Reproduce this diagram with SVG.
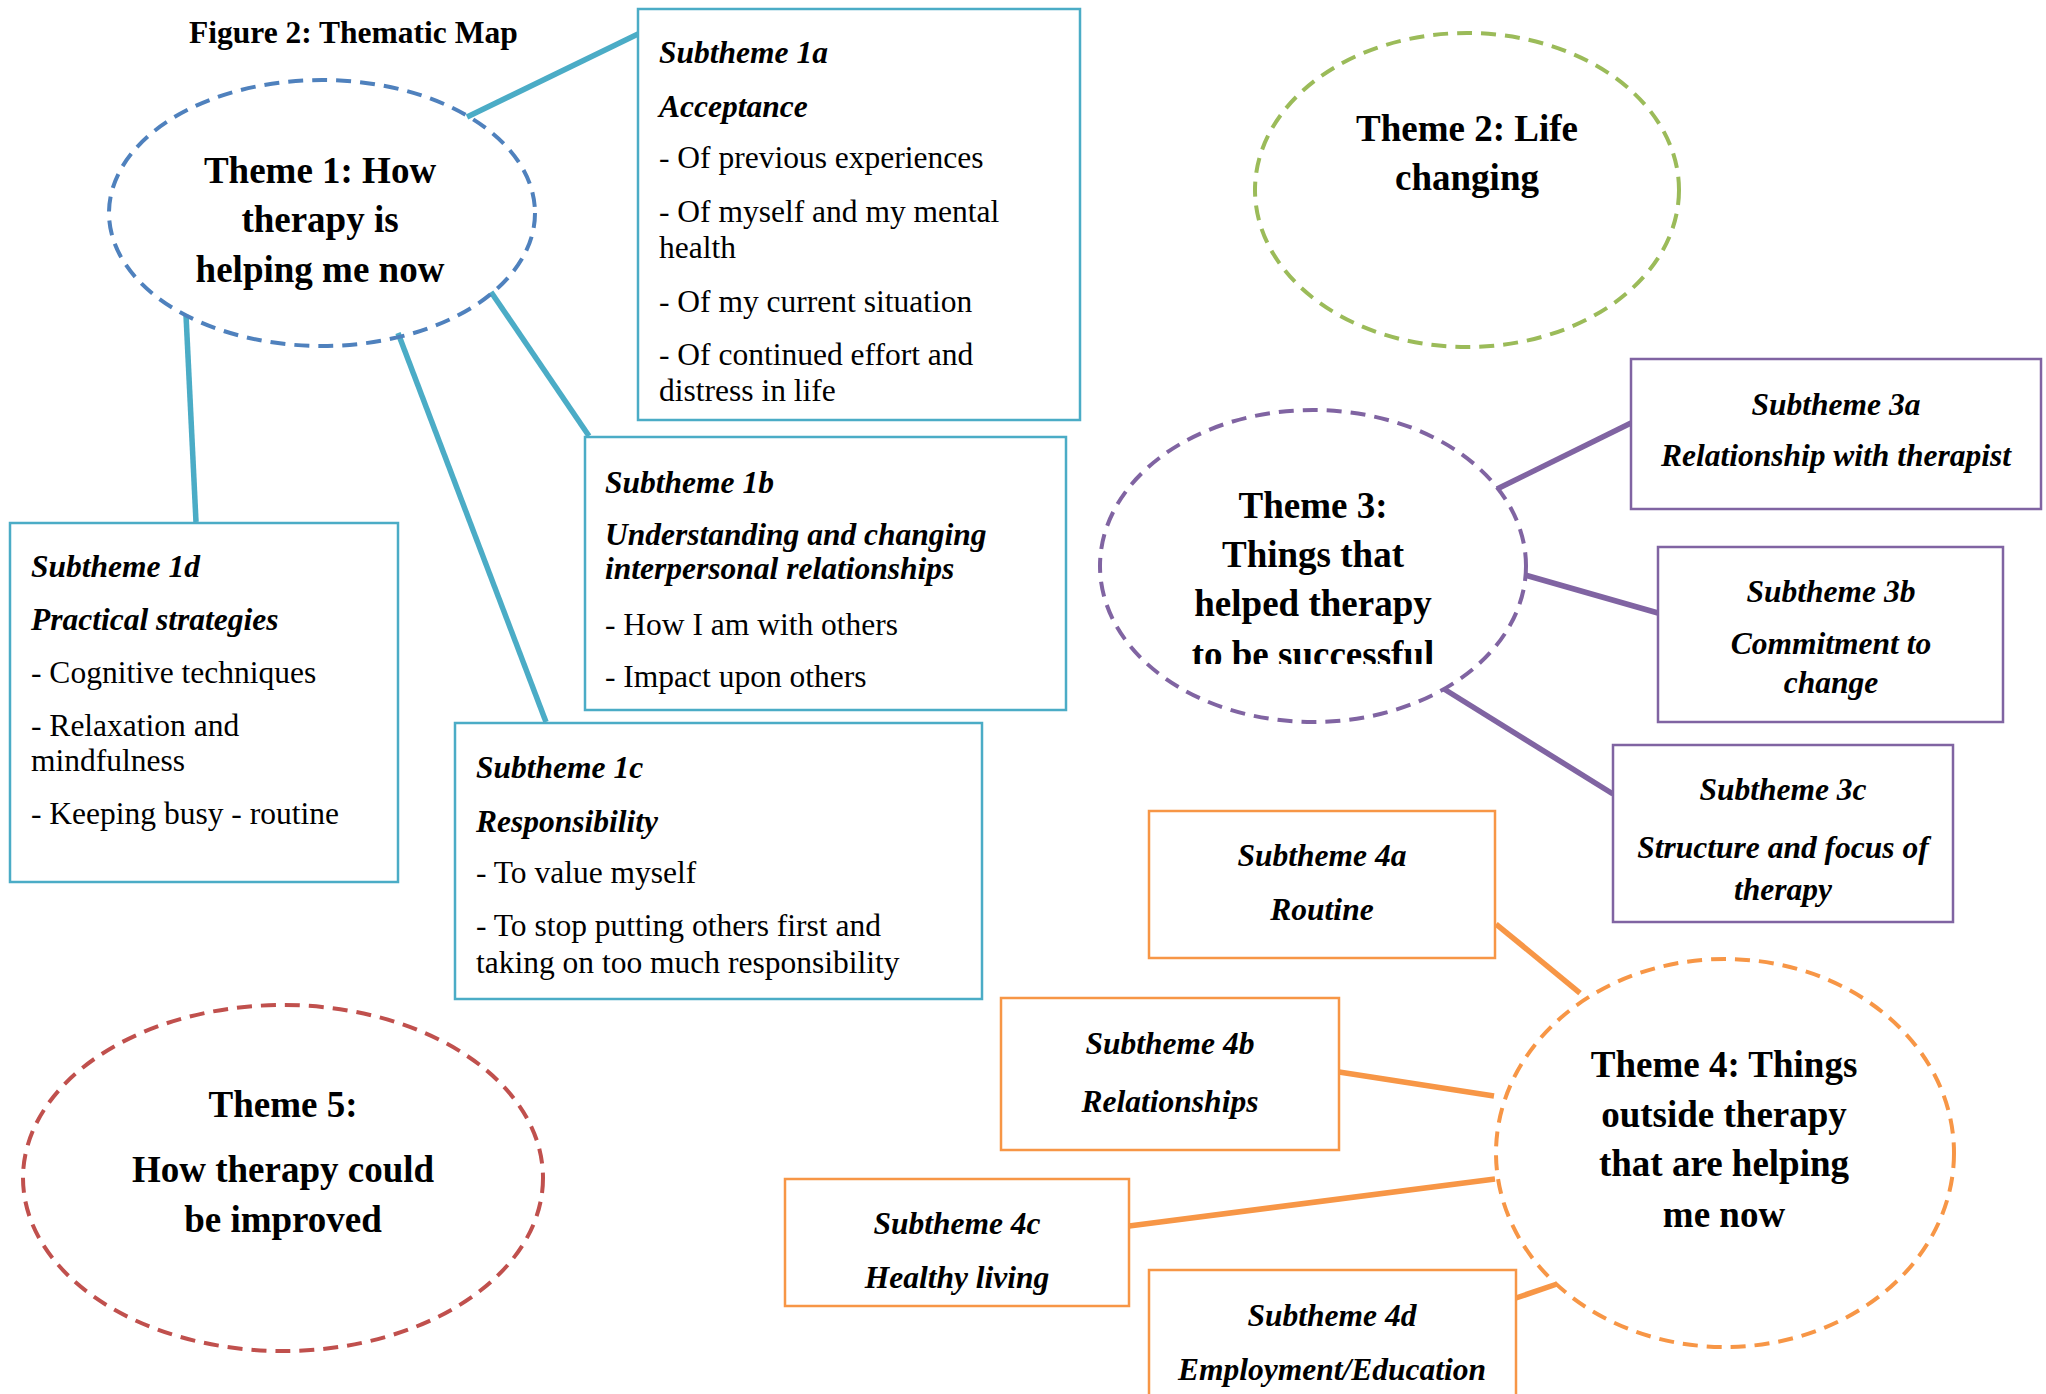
<svg xmlns="http://www.w3.org/2000/svg" width="2046" height="1394" viewBox="0 0 2046 1394">
<defs>
<style>
text{font-family:"Liberation Serif","Times New Roman",serif;fill:#000}
.t{font-size:31.5px}
.bi{font-size:31.5px;font-weight:bold;font-style:italic}
.th{font-size:37px;font-weight:bold;text-anchor:middle}
.m{text-anchor:middle}
.box{fill:#fff;stroke-width:2.5}
.c1{stroke:#4bacc6}
.c3{stroke:#8064a2}
.c4{stroke:#f79646}
.ell{fill:none;stroke-width:4;stroke-dasharray:15 9}
.ln{fill:none;stroke-width:5.5}
</style>
<clipPath id="clip3"><rect x="1100" y="400" width="430" height="264"/></clipPath>
</defs>
<rect width="2046" height="1394" fill="#fff"/>
<text x="189" y="43" style="font-size:31.5px;font-weight:bold">Figure 2: Thematic Map</text>

<g id="connectors">
<line class="ln c1" x1="467" y1="117" x2="638" y2="34"/>
<line class="ln c1" x1="491" y1="292" x2="589" y2="436"/>
<line class="ln c1" x1="398" y1="333" x2="546" y2="722"/>
<line class="ln c1" x1="186" y1="315" x2="196" y2="522"/>
<line class="ln c3" x1="1497" y1="489" x2="1631" y2="423"/>
<line class="ln c3" x1="1525" y1="575" x2="1658" y2="613"/>
<line class="ln c3" x1="1444" y1="689" x2="1613" y2="794"/>
<line class="ln c4" x1="1496" y1="924" x2="1580" y2="993"/>
<line class="ln c4" x1="1339" y1="1072" x2="1494" y2="1096"/>
<line class="ln c4" x1="1129" y1="1226" x2="1495" y2="1179"/>
<line class="ln c4" x1="1516" y1="1298" x2="1557" y2="1284"/>
</g>

<g id="theme1">
<ellipse class="ell" stroke="#4f81bd" cx="322" cy="213" rx="213" ry="133"/>
<text class="th" x="320" y="183">Theme 1: How</text>
<text class="th" x="320" y="232">therapy is</text>
<text class="th" x="320" y="282">helping me now</text>
</g>

<g id="sub1a">
<rect class="box c1" x="638" y="9" width="442" height="411"/>
<text class="bi" x="659" y="63">Subtheme 1a</text>
<text class="bi" x="659" y="117">Acceptance</text>
<text class="t" x="659" y="168">- Of previous experiences</text>
<text class="t" x="659" y="222">- Of myself and my mental</text>
<text class="t" x="659" y="258">health</text>
<text class="t" x="659" y="312">- Of my current situation</text>
<text class="t" x="659" y="365">- Of continued effort and</text>
<text class="t" x="659" y="401">distress in life</text>
</g>

<g id="sub1b">
<rect class="box c1" x="585" y="437" width="481" height="273"/>
<text class="bi" x="605" y="493">Subtheme 1b</text>
<text class="bi" x="605" y="545">Understanding and changing</text>
<text class="bi" x="605" y="579">interpersonal relationships</text>
<text class="t" x="605" y="635">- How I am with others</text>
<text class="t" x="605" y="687">- Impact upon others</text>
</g>

<g id="sub1c">
<rect class="box c1" x="455" y="723" width="527" height="276"/>
<text class="bi" x="476" y="778">Subtheme 1c</text>
<text class="bi" x="476" y="832">Responsibility</text>
<text class="t" x="476" y="883">- To value myself</text>
<text class="t" x="476" y="936">- To stop putting others first and</text>
<text class="t" x="476" y="973">taking on too much responsibility</text>
</g>

<g id="sub1d">
<rect class="box c1" x="10" y="523" width="388" height="359"/>
<text class="bi" x="31" y="577">Subtheme 1d</text>
<text class="bi" x="31" y="630">Practical strategies</text>
<text class="t" x="31" y="683">- Cognitive techniques</text>
<text class="t" x="31" y="736">- Relaxation and</text>
<text class="t" x="31" y="771">mindfulness</text>
<text class="t" x="31" y="824">- Keeping busy - routine</text>
</g>

<g id="theme2">
<ellipse class="ell" stroke="#9bbb59" cx="1467" cy="190" rx="212" ry="157"/>
<text class="th" x="1467" y="141">Theme 2: Life</text>
<text class="th" x="1467" y="190">changing</text>
</g>

<g id="theme3">
<ellipse class="ell" stroke="#8064a2" cx="1313" cy="566" rx="213" ry="156"/>
<g clip-path="url(#clip3)">
<text class="th" x="1313" y="518">Theme 3:</text>
<text class="th" x="1313" y="567">Things that</text>
<text class="th" x="1313" y="616">helped therapy</text>
<text class="th" x="1313" y="667">to be successful</text>
</g>
</g>

<g id="sub3a">
<rect class="box c3" x="1631" y="359" width="410" height="150"/>
<text class="bi m" x="1836" y="415">Subtheme 3a</text>
<text class="bi m" x="1836" y="466">Relationship with therapist</text>
</g>

<g id="sub3b">
<rect class="box c3" x="1658" y="547" width="345" height="175"/>
<text class="bi m" x="1831" y="602">Subtheme 3b</text>
<text class="bi m" x="1831" y="654">Commitment to</text>
<text class="bi m" x="1831" y="693">change</text>
</g>

<g id="sub3c">
<rect class="box c3" x="1613" y="745" width="340" height="177"/>
<text class="bi m" x="1783" y="800">Subtheme 3c</text>
<text class="bi m" x="1783" y="858">Structure and focus of</text>
<text class="bi m" x="1783" y="900">therapy</text>
</g>

<g id="theme4">
<ellipse class="ell" stroke="#f79646" cx="1725" cy="1153" rx="229" ry="194"/>
<text class="th" x="1724" y="1077">Theme 4: Things</text>
<text class="th" x="1724" y="1127">outside therapy</text>
<text class="th" x="1724" y="1176">that are helping</text>
<text class="th" x="1724" y="1227">me now</text>
</g>

<g id="sub4a">
<rect class="box c4" x="1149" y="811" width="346" height="147"/>
<text class="bi m" x="1322" y="866">Subtheme 4a</text>
<text class="bi m" x="1322" y="920">Routine</text>
</g>

<g id="sub4b">
<rect class="box c4" x="1001" y="998" width="338" height="152"/>
<text class="bi m" x="1170" y="1054">Subtheme 4b</text>
<text class="bi m" x="1170" y="1112">Relationships</text>
</g>

<g id="sub4c">
<rect class="box c4" x="785" y="1179" width="344" height="127"/>
<text class="bi m" x="957" y="1234">Subtheme 4c</text>
<text class="bi m" x="957" y="1288">Healthy living</text>
</g>

<g id="sub4d">
<rect class="box c4" x="1149" y="1270" width="367" height="140"/>
<text class="bi m" x="1332" y="1326">Subtheme 4d</text>
<text class="bi m" x="1332" y="1380">Employment/Education</text>
</g>

<g id="theme5">
<ellipse class="ell" stroke="#c0504d" cx="283" cy="1178" rx="260" ry="173"/>
<text class="th" x="283" y="1117">Theme 5:</text>
<text class="th" x="283" y="1182">How therapy could</text>
<text class="th" x="283" y="1232">be improved</text>
</g>
</svg>
